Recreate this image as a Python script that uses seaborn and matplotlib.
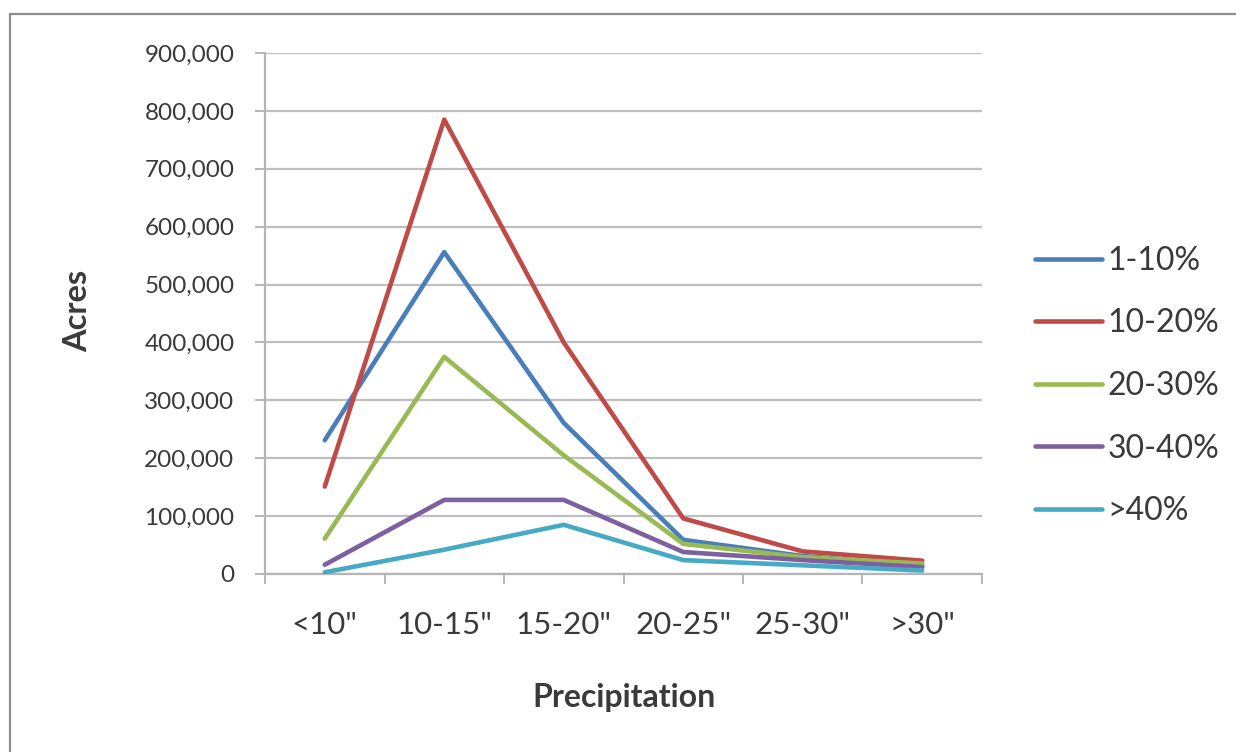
import matplotlib
matplotlib.use("Agg")
import matplotlib.pyplot as plt
import matplotlib.lines as mlines
from matplotlib.ticker import FuncFormatter, FixedLocator
import seaborn as sns
import pandas as pd

categories = ['<10"', '10-15"', '15-20"', '20-25"', '25-30"', '>30"']
s_1_10 = [231000, 556000, 261000, 59000, 31000, 15000]
s_10_20 = [151000, 785000, 400000, 96000, 39000, 23000]
s_20_30 = [61000, 375000, 205000, 52000, 29000, 18000]
s_30_40 = [16000, 128000, 128000, 38000, 24000, 12000]
s_40 = [3000, 42000, 85000, 24000, 15000, 6000]
series_names = ["1-10%", "10-20%", "20-30%", "30-40%", ">40%"]
series_values = [s_1_10, s_10_20, s_20_30, s_30_40, s_40]
colors = ["#4A7EBB", "#BE4B48", "#98B954", "#7D60A0", "#46AAC5"]

rows = []
for name, vals in zip(series_names, series_values):
    for c, v in zip(categories, vals):
        rows.append({"Precipitation": c, "Acres": v, "Series": name})
df = pd.DataFrame(rows)

sns.set_style("white")
plt.rcParams["font.family"] = ["Lato", "DejaVu Sans"]
text_color = "#3a3a3a"

fig = plt.figure(figsize=(12.36, 7.52), dpi=100)
ax = fig.add_axes([265 / 1236, 1 - 574 / 752, (982 - 265) / 1236, (574 - 53) / 752])

sns.lineplot(data=df, x="Precipitation", y="Acres", hue="Series",
             hue_order=series_names, palette=colors, sort=False,
             linewidth=3.3, ax=ax, legend=True, zorder=3)

ax.set_xlim(-0.5, len(categories) - 0.5)
ax.set_ylim(0, 900000)
ax.set_yticks(range(0, 900001, 100000))
ax.yaxis.set_major_formatter(FuncFormatter(lambda v, p: f"{int(v):,}"))
ax.set_xticks(range(len(categories)))
ax.set_xticklabels(categories)
ax.xaxis.set_minor_locator(FixedLocator([i - 0.5 for i in range(len(categories) + 1)]))

grid_c = "#BFBFBF"
ax.grid(axis="y", color=grid_c, linewidth=1.6, zorder=0)
ax.grid(axis="x", visible=False)
for sp in ["top", "right"]:
    ax.spines[sp].set_visible(False)
for sp in ["left", "bottom"]:
    ax.spines[sp].set_color("#B5B5B5")
    ax.spines[sp].set_linewidth(1.6)

ax.tick_params(axis="y", length=7, width=1.4, color="#B5B5B5", pad=15,
               labelsize=17.5, labelcolor=text_color, left=True)
ax.tick_params(axis="x", which="major", length=0, pad=27,
               labelsize=22.5, labelcolor=text_color)
ax.tick_params(axis="x", which="minor", length=7, width=1.4, color="#B5B5B5",
               bottom=True)

ax.set_xlabel("")
ax.set_ylabel("")
fig.text(624 / 1236, 1 - 697 / 752, "Precipitation", ha="center", va="center",
         fontsize=23, fontweight="bold", color=text_color)
fig.text(78 / 1236, 1 - 311 / 752, "Acres", ha="center", va="center",
         rotation=90, fontsize=23.5, fontweight="bold", color=text_color)

handles, labels = ax.get_legend_handles_labels()
ax.legend(handles, labels, loc="center left",
          bbox_to_anchor=(1035 / 1236, 1 - 386 / 752),
          bbox_transform=fig.transFigure, frameon=False, fontsize=23,
          handlelength=2.1, handletextpad=0.16, labelspacing=1.02,
          borderpad=0, borderaxespad=0, labelcolor=text_color)

# outer chart frame (top and left edges visible)
fx = 10 / 1236
fy = 1 - 14 / 752
fig.add_artist(mlines.Line2D([fx, fx], [0, fy], transform=fig.transFigure,
                             color="#8C8C8C", linewidth=1.6))
fig.add_artist(mlines.Line2D([fx, 1], [fy, fy], transform=fig.transFigure,
                             color="#8C8C8C", linewidth=1.6))

fig.savefig("out.png", dpi=100)
